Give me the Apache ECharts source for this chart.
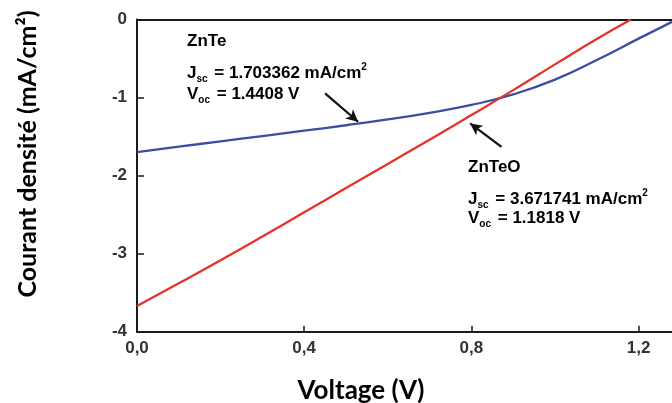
<!DOCTYPE html>
<html>
<head>
<meta charset="utf-8">
<script src="https://cdn.jsdelivr.net/npm/echarts@6/dist/echarts.min.js"></script>
<style>
  html, body { margin: 0; padding: 0; background: #fff; }
  #chart { width: 672px; height: 403px; }
</style>
</head>
<body>
<div id="chart"></div>
<script>
// J-V curves of the two cells: voltage (V) vs current density (mA/cm²)
const znteVoltage = [0, 0.1, 0.2, 0.3, 0.4, 0.5, 0.6, 0.7, 0.8, 0.9, 1.0, 1.1, 1.2, 1.28];
const znteCurrent = [-1.70, -1.63, -1.561, -1.493, -1.425, -1.355, -1.28, -1.195, -1.095, -0.96, -0.77, -0.52, -0.245, -0.03];

const zntoVoltage = [0, 0.1, 0.2, 0.3, 0.4, 0.5, 0.6, 0.7, 0.8, 0.9, 1.0, 1.1, 1.1818];
const zntoCurrent = [-3.67, -3.38, -3.085, -2.78, -2.47, -2.16, -1.85, -1.54, -1.225, -0.905, -0.575, -0.25, 0];

const xTicks = [0, 0.4, 0.8, 1.2];
const xTickLabels = ['0,0', '0,4', '0,8', '1,2'];

// arrow annotations in data units: [start, end]
const znteArrow = [[0.450, -0.946], [0.529, -1.31]];
const zntoArrow = [[0.872, -1.631], [0.797, -1.331]];

const pair = (xs, ys) => xs.map((x, i) => [x, ys[i]]);

const chart = echarts.init(document.getElementById('chart'));
const baseFont = 'Liberation Sans, Arial, sans-serif';
const tickFont = { fontFamily: baseFont, fontWeight: 'bold', fontSize: 17, color: '#333' };
const noteRich = {
  b: { fontFamily: baseFont, fontWeight: 'bold', fontSize: 17, color: '#2b2b2b', lineHeight: 22, verticalAlign: 'middle' },
  s: { fontFamily: baseFont, fontWeight: 'bold', fontSize: 10, color: '#2b2b2b', lineHeight: 22, verticalAlign: 'bottom', padding: [0, 2, 0, 0] },
  p: { fontFamily: baseFont, fontWeight: 'bold', fontSize: 10, color: '#2b2b2b', lineHeight: 22, verticalAlign: 'top' }
};

function arrowLine(a) {
  return {
    silent: true,
    symbol: ['none', 'arrow'],
    symbolSize: [9, 12],
    lineStyle: { color: '#111', width: 2.2, type: 'solid' },
    label: { show: false },
    emphasis: { disabled: true },
    data: [[{ coord: a[0] }, { coord: a[1] }]]
  };
}

chart.setOption({
  animation: false,
  backgroundColor: '#fff',
  grid: { left: 137, top: 19.5, right: 0, bottom: 71.3 },
  xAxis: [{
    type: 'value', min: 0, max: 1.28, interval: 0.4,
    axisLine: { show: true, onZero: false, lineStyle: { color: '#1a1a1a', width: 2 } },
    axisTick: { show: true, inside: true, length: 6, lineStyle: { color: '#1a1a1a', width: 1.5 } },
    splitLine: { show: false },
    axisLabel: Object.assign({
      margin: 8, showMaxLabel: false,
      formatter: v => { const i = xTicks.findIndex(t => Math.abs(t - v) < 1e-6); return i >= 0 ? xTickLabels[i] : ''; }
    }, tickFont)
  }, {
    type: 'value', position: 'top', min: 0, max: 1.28,
    axisLine: { show: true, onZero: false, lineStyle: { color: '#1a1a1a', width: 2 } },
    axisTick: { show: false }, axisLabel: { show: false }, splitLine: { show: false }
  }],
  yAxis: {
    type: 'value', min: -4, max: 0, interval: 1,
    axisLine: { show: true, onZero: false, lineStyle: { color: '#1a1a1a', width: 2 } },
    axisTick: { show: true, inside: true, length: 7, lineStyle: { color: '#1a1a1a', width: 1.5 } },
    splitLine: { show: false },
    axisLabel: Object.assign({ margin: 10 }, tickFont)
  },
  series: [{
    name: 'ZnTe', type: 'line', smooth: 0.5, showSymbol: false,
    data: pair(znteVoltage, znteCurrent),
    lineStyle: { color: '#3b4ea3', width: 2.3 },
    markLine: arrowLine(znteArrow)
  }, {
    name: 'ZnTeO', type: 'line', smooth: 0.5, showSymbol: false,
    data: pair(zntoVoltage, zntoCurrent),
    lineStyle: { color: '#e5332a', width: 2.3 },
    markLine: arrowLine(zntoArrow)
  }],
  graphic: [
    { type: 'text', left: 187, top: 33, style: { text: '{b|ZnTe}', rich: noteRich } },
    { type: 'text', left: 187, top: 62, style: { text: '{b|J}{s|sc}{b| = 1.703362 mA/cm}{p|2}', rich: noteRich } },
    { type: 'text', left: 187, top: 86, style: { text: '{b|V}{s|oc}{b| = 1.4408 V}', rich: noteRich } },
    { type: 'text', left: 468, top: 159, style: { text: '{b|ZnTeO}', rich: noteRich } },
    { type: 'text', left: 468, top: 188, style: { text: '{b|J}{s|sc}{b| = 3.671741 mA/cm}{p|2}', rich: noteRich } },
    { type: 'text', left: 468, top: 210, style: { text: '{b|V}{s|oc}{b| = 1.1818 V}', rich: noteRich } },
    { type: 'text', x: 361, y: 391, style: { text: 'Voltage (V)', fontFamily: 'Lato, sans-serif', fontWeight: 'bold', fontSize: 26, fill: '#000', align: 'center', verticalAlign: 'middle' } },
    { type: 'text', x: 28, y: 154, rotation: Math.PI / 2, style: { text: 'Courant densité (mA/cm²)', fontFamily: 'Lato, sans-serif', fontWeight: 'bold', fontSize: 25, fill: '#000', align: 'center', verticalAlign: 'middle' } }
  ]
});
</script>
</body>
</html>
